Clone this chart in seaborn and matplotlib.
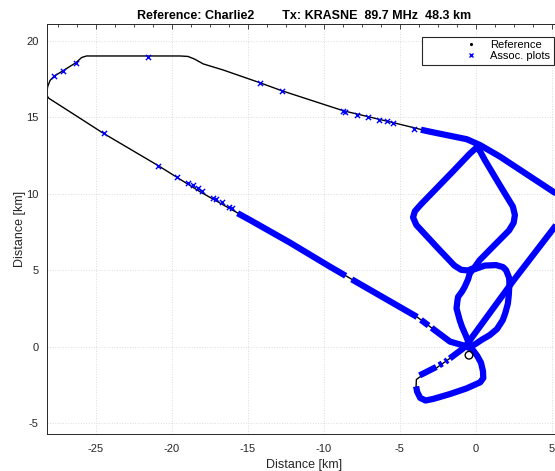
import numpy as np
import pandas as pd
import matplotlib
matplotlib.use("Agg")
import matplotlib.pyplot as plt
import seaborn as sns
from matplotlib.lines import Line2D
from matplotlib.legend_handler import HandlerLine2D
from matplotlib.ticker import MultipleLocator

sns.set_theme(style="white")
plt.rcParams["font.family"] = ["Liberation Sans", "DejaVu Sans"]
plt.rcParams["axes.unicode_minus"] = False

TITLE = "Reference: Charlie2        Tx: KRASNE  89.7 MHz  48.3 km"
X_LABEL = "Distance [km]"
Y_LABEL = "Distance [km]"
LEGEND_LABELS = ["Reference", "Assoc. plots"]

# ---- reference track (km east, km north) ----
# outer leg: in from the east, west along the northern line, round the
# western turn, back down the long diagonal, round the southern box, out NE
outer_x = [5.8, 5.1, 1.6, 0.28, -0.59, -3.0, -5.42, -8.71, -12.76, -14.19,
           -16.6, -17.92, -18.5, -18.93, -19.45, -25.6, -25.92, -26.3, -27.17,
           -27.72, -28.0, -28.16, -28.22, -28.1, -27.9, -26.03, -24.5, -20.88,
           -18.14, -14.85, -12.22, -9.59, -3.88, -1.69, -0.7, -0.2, 0.1, 0.35,
           0.48, 0.5, 0.3, -0.6, -1.7, -2.8, -3.3, -3.65, -3.85, -3.92, -3.9,
           -3.66, -2.79, -1.7, -0.83, -0.6, 2.47, 5.21, 5.8]
outer_y = [9.7, 10.13, 12.42, 13.18, 13.56, 14.05, 14.64, 15.42, 16.73, 17.25,
           18.08, 18.48, 18.8, 18.97, 19.0, 19.0, 18.9, 18.56, 18.02,
           17.69, 17.4, 16.99, 16.45, 16.25, 16.12, 14.93, 13.95, 11.83,
           10.13, 8.28, 6.8, 5.23, 1.96, 0.33, 0.05, -0.2, -0.6, -1.05,
           -1.6, -2.05, -2.33, -2.73, -3.1, -3.42, -3.52, -3.35, -2.95, -2.6, -2.15,
           -1.97, -1.54, -0.77, -0.12, 0.12, 4.3, 7.84, 8.62]

# rounded square north of the receiver
diamond_x = [0.1, -0.4, -1.5, -3.6, -4.0, -4.12, -3.9, -2.5, -1.4, -0.95, -0.5,
             -0.1, 0.26, 1.2, 2.2, 2.5, 2.58, 2.45, 1.5, 0.6, 0.3, 0.1]
diamond_y = [13.05, 12.6, 11.45, 9.3, 8.85, 8.45, 7.95, 6.45, 5.3, 5.02, 4.98,
             5.15, 5.65, 6.6, 7.6, 8.1, 8.6, 9.15, 10.7, 12.2, 12.75, 13.05]

# small loop between the square and the receiver
loop_x = [-0.28, -0.61, -0.9, -1.05, -1.26, -1.2, -1.16, -0.9, -0.72, -0.5,
          -0.39, -0.2, 0.04, 0.6, 1.35, 1.8, 2.0, 2.2, 2.22, 2.18, 2.12, 1.95,
          1.78, 1.4, 0.92, 0.4, 0.04, -0.4]
loop_y = [-0.23, 0.64, 1.3, 1.73, 2.5, 3.0, 3.25, 3.6, 3.91, 4.4,
          4.78, 5.02, 5.1, 5.3, 5.33, 5.2, 5.0, 4.5, 4.13, 3.4, 2.82, 2.2,
          1.73, 1.15, 0.75, 0.45, 0.21, -0.05]

# receiver site
site_x = [-0.44]
site_y = [-0.56]

# ---- associated plots ----
# continuous runs of plots along the track
run_north_x = [-3.6, -3.0, -0.59, 0.28, 1.6, 5.1, 5.8]
run_north_y = [14.18, 14.05, 13.56, 13.18, 12.42, 10.13, 9.7]
run_diag1_x = [-15.66, -14.85, -12.22, -9.59, -8.55]
run_diag1_y = [8.72, 8.28, 6.8, 5.23, 4.63]
run_diag2_x = [-8.15, -3.85]
run_diag2_y = [4.40, 1.94]
run_diag3_x = [-3.6, -3.1]
run_diag3_y = [1.75, 1.38]
run_diag4_x = [-2.9, -1.69, -0.7, -0.2, 0.1, 0.35, 0.48, 0.5, 0.3, -0.6, -1.7,
               -2.8, -3.3, -3.65, -3.85, -3.92]
run_diag4_y = [1.23, 0.33, 0.05, -0.2, -0.6, -1.05, -1.6, -2.05, -2.33, -2.73,
               -3.1, -3.42, -3.52, -3.35, -2.95, -2.6]
run_sw1_x = [-3.69, -2.59]
run_sw1_y = [-1.88, -1.33]
run_sw2_x = [-2.4, -2.2]
run_sw2_y = [-1.22, -1.1]
run_sw3_x = [-2.0, -1.85]
run_sw3_y = [-0.99, -0.88]
run_sw4_x = [-1.7, -0.83, -0.6, 2.47, 5.21, 5.8]
run_sw4_y = [-0.77, -0.12, 0.12, 4.3, 7.84, 8.62]

# isolated plots
plot_x = [-27.72, -27.17, -26.3, -21.56, -24.44, -20.88, -19.67, -18.91, -18.58,
          -18.25, -17.99, -17.26, -17.08, -16.71, -16.21, -16.03, -14.19, -12.76,
          -8.71, -8.6, -7.83, -7.07, -6.34, -5.86, -5.42, -4.04]
plot_y = [17.69, 18.02, 18.56, 18.95, 13.95, 11.83, 11.11, 10.72, 10.57,
          10.35, 10.18, 9.7, 9.62, 9.48, 9.15, 9.07, 17.25, 16.73,
          15.42, 15.37, 15.17, 15.0, 14.83, 14.72, 14.62, 14.25]

BLUE = "#0000ff"
INK = "#262626"

fig = plt.figure(figsize=(5.55, 4.71), dpi=100)
ax = fig.add_axes([46.7 / 555, 37 / 471, 514.1 / 555, 410 / 471])


def path(xs, ys, **kw):
    df = pd.DataFrame({"x": xs, "y": ys})
    sns.lineplot(data=df, x="x", y="y", sort=False, estimator=None,
                 legend=False, ax=ax, **kw)


# reference track
for xs, ys in [(outer_x, outer_y), (diamond_x, diamond_y), (loop_x, loop_y)]:
    path(xs, ys, color="black", linewidth=1.0, zorder=2)

# dense runs of associated plots
for xs, ys in [(run_north_x, run_north_y), (run_diag1_x, run_diag1_y),
               (run_diag2_x, run_diag2_y), (run_diag3_x, run_diag3_y),
               (run_diag4_x, run_diag4_y),
               (run_sw1_x, run_sw1_y), (run_sw2_x, run_sw2_y),
               (run_sw3_x, run_sw3_y), (run_sw4_x, run_sw4_y),
               (diamond_x, diamond_y), (loop_x, loop_y)]:
    path(xs, ys, color=BLUE, linewidth=4.5, zorder=3,
         solid_capstyle="butt", solid_joinstyle="round")

# isolated associated plots
sns.scatterplot(x=plot_x, y=plot_y, marker="x", color=BLUE, s=14,
                linewidth=1.0, zorder=4, ax=ax, legend=False)

# receiver
sns.scatterplot(x=site_x, y=site_y, marker="o", s=30, facecolor="none",
                edgecolor="black", linewidth=1.0, zorder=5, ax=ax, legend=False)

ax.set_xlim(-28.22, 5.6)
ax.set_ylim(-5.71, 21.09)

ax.xaxis.set_major_locator(MultipleLocator(5))
ax.yaxis.set_major_locator(MultipleLocator(5))
ax.xaxis.set_minor_locator(MultipleLocator(1.25))
ax.yaxis.set_minor_locator(MultipleLocator(1.25))
ax.tick_params(which="both", direction="in", top=True, right=True,
               color=INK, width=0.6, labelcolor=INK, labelsize=8)
ax.tick_params(which="major", length=3.5, pad=6)
ax.tick_params(axis="x", which="major", pad=7)
ax.tick_params(which="minor", length=2.2)
ax.grid(True, which="major", color="#dcdcdc", linestyle=":", linewidth=0.7)
ax.set_axisbelow(True)
for sp in ax.spines.values():
    sp.set_color(INK)
    sp.set_linewidth(0.7)

ax.set_title(TITLE, fontsize=9, fontweight="bold", color="black", pad=3.5)
ax.set_xlabel(X_LABEL, fontsize=9, color=INK, labelpad=4)
ax.set_ylabel(Y_LABEL, fontsize=9, color=INK, labelpad=0)


class OffsetMarker(HandlerLine2D):
    def get_xdata(self, legend, xdescent, ydescent, width, height, fontsize):
        xm = -xdescent + 0.74 * width
        return [xm, xm], [xm]


handles = [Line2D([], [], linestyle="none", marker=".", markersize=2.5, color="black"),
           Line2D([], [], linestyle="none", marker="x", markersize=3.5,
                  markeredgewidth=1.0, color=BLUE)]
leg = fig.legend(handles, LEGEND_LABELS, loc="upper right",
                 bbox_to_anchor=(553.5 / 555, 1 - 37 / 471),
                 bbox_transform=fig.transFigure, fontsize=8, frameon=True,
                 fancybox=False, framealpha=1, edgecolor=INK, borderpad=0.3,
                 handlelength=5.5, handletextpad=0.3, labelspacing=0.08,
                 borderaxespad=0, numpoints=1,
                 handler_map={Line2D: OffsetMarker()})
leg.get_frame().set_linewidth(0.8)
for t in leg.get_texts():
    t.set_color("black")

fig.savefig("out.png", dpi=100)
